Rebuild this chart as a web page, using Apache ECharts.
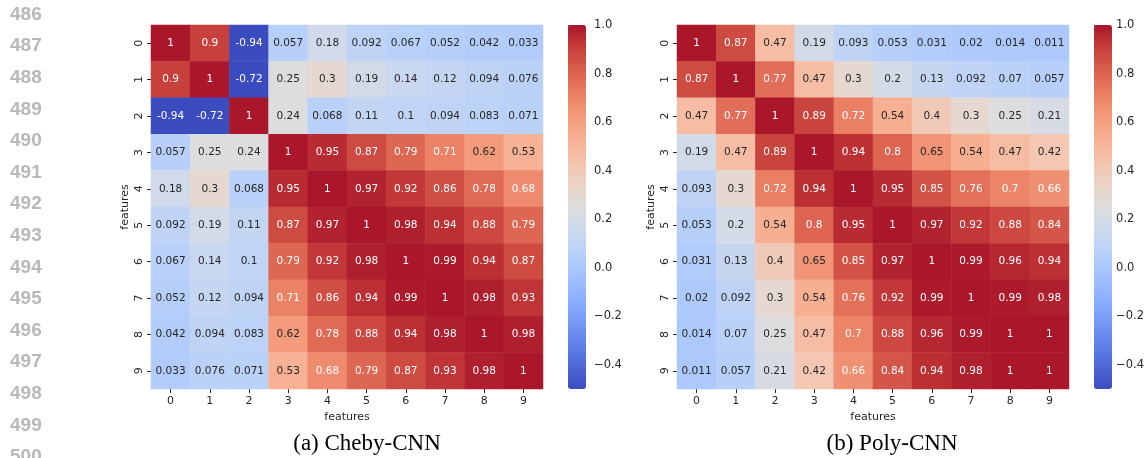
<!DOCTYPE html>
<html>
<head>
<meta charset="utf-8">
<script src="https://cdn.jsdelivr.net/npm/echarts@6/dist/echarts.min.js"></script>
<style>
  html, body { margin: 0; background: #fff; }
  #chart { width: 1147px; height: 458px; }
</style>
</head>
<body>
<div id="chart"></div>
<script>
const features = ["0", "1", "2", "3", "4", "5", "6", "7", "8", "9"];

const chebyCorr = [
  [1, 0.9, -0.94, 0.057, 0.18, 0.092, 0.067, 0.052, 0.042, 0.033],
  [0.9, 1, -0.72, 0.25, 0.3, 0.19, 0.14, 0.12, 0.094, 0.076],
  [-0.94, -0.72, 1, 0.24, 0.068, 0.11, 0.1, 0.094, 0.083, 0.071],
  [0.057, 0.25, 0.24, 1, 0.95, 0.87, 0.79, 0.71, 0.62, 0.53],
  [0.18, 0.3, 0.068, 0.95, 1, 0.97, 0.92, 0.86, 0.78, 0.68],
  [0.092, 0.19, 0.11, 0.87, 0.97, 1, 0.98, 0.94, 0.88, 0.79],
  [0.067, 0.14, 0.1, 0.79, 0.92, 0.98, 1, 0.99, 0.94, 0.87],
  [0.052, 0.12, 0.094, 0.71, 0.86, 0.94, 0.99, 1, 0.98, 0.93],
  [0.042, 0.094, 0.083, 0.62, 0.78, 0.88, 0.94, 0.98, 1, 0.98],
  [0.033, 0.076, 0.071, 0.53, 0.68, 0.79, 0.87, 0.93, 0.98, 1]
];

const polyCorr = [
  [1, 0.87, 0.47, 0.19, 0.093, 0.053, 0.031, 0.02, 0.014, 0.011],
  [0.87, 1, 0.77, 0.47, 0.3, 0.2, 0.13, 0.092, 0.07, 0.057],
  [0.47, 0.77, 1, 0.89, 0.72, 0.54, 0.4, 0.3, 0.25, 0.21],
  [0.19, 0.47, 0.89, 1, 0.94, 0.8, 0.65, 0.54, 0.47, 0.42],
  [0.093, 0.3, 0.72, 0.94, 1, 0.95, 0.85, 0.76, 0.7, 0.66],
  [0.053, 0.2, 0.54, 0.8, 0.95, 1, 0.97, 0.92, 0.88, 0.84],
  [0.031, 0.13, 0.4, 0.65, 0.85, 0.97, 1, 0.99, 0.96, 0.94],
  [0.02, 0.092, 0.3, 0.54, 0.76, 0.92, 0.99, 1, 0.99, 0.98],
  [0.014, 0.07, 0.25, 0.47, 0.7, 0.88, 0.96, 0.99, 1, 1],
  [0.011, 0.057, 0.21, 0.42, 0.66, 0.84, 0.94, 0.98, 1, 1]
];

const colorbarTicks = [-0.4, -0.2, 0, 0.2, 0.4, 0.6, 0.8, 1.0];
const captions = ["(a) Cheby-CNN", "(b) Poly-CNN"];
const lineNumbers = [486, 487, 488, 489, 490, 491, 492, 493, 494, 495, 496, 497, 498, 499, 500];
const vMin = -0.5;
const vMax = 1.0;

// coolwarm, red end toned down a little like the scanned figure
const coolwarm = [
  [59, 76, 192], [77, 104, 215], [98, 130, 234], [119, 154, 247],
  [141, 176, 254], [163, 194, 255], [184, 208, 249], [204, 217, 238],
  [221, 221, 221], [236, 211, 197], [245, 196, 173], [247, 177, 148],
  [244, 154, 123], [234, 127, 99], [218, 96, 78], [198, 62, 58], [170, 22, 42]
];
const coolwarmHex = coolwarm.map(c => "rgb(" + c.join(",") + ")");

const clamp = v => Math.min(vMax, Math.max(vMin, v));

function cmap(v) {
  const t = (clamp(v) - vMin) / (vMax - vMin) * (coolwarm.length - 1);
  const i = Math.min(coolwarm.length - 2, Math.floor(t));
  const f = t - i;
  return coolwarm[i].map((c, k) => c + (coolwarm[i + 1][k] - c) * f);
}

// seaborn picks dark or white annotation text by luminance
function textColor(v) {
  const lin = cmap(v).map(c => {
    c /= 255;
    return c <= 0.03928 ? c / 12.92 : Math.pow((c + 0.055) / 1.055, 2.4);
  });
  const lum = 0.2126 * lin[0] + 0.7152 * lin[1] + 0.0722 * lin[2];
  return lum > 0.408 ? "#262626" : "#ffffff";
}

const toCells = (m) => {
  const out = [];
  m.forEach((row, i) => row.forEach((v, j) => {
    out.push({ value: [j, i, v, clamp(v)], label: { color: textColor(v) } });
  }));
  return out;
};

const font = "DejaVu Sans";
const ink = "#262626";

const heatGrids = [
  { left: 151, top: 25, width: 392, height: 364 },
  { left: 677, top: 25, width: 392, height: 364 }
];
const barGrids = [
  { left: 568, top: 25, width: 18, height: 364 },
  { left: 1094, top: 25, width: 18, height: 364 }
];

const catX = (gi) => ({
  type: "category", gridIndex: gi, data: features,
  name: "features", nameLocation: "middle", nameGap: 22,
  nameTextStyle: { fontFamily: font, fontSize: 11, color: ink },
  axisLine: { show: false },
  axisTick: { show: true, alignWithLabel: true, length: 4, lineStyle: { color: ink } },
  axisLabel: { fontFamily: font, fontSize: 11, color: ink, margin: 7 },
  splitLine: { show: false }
});
const catY = (gi) => ({
  type: "category", gridIndex: gi, data: features, inverse: true,
  name: "features", nameLocation: "middle", nameGap: 20, nameRotate: 90,
  nameTextStyle: { fontFamily: font, fontSize: 11, color: ink },
  axisLine: { show: false },
  axisTick: { show: true, alignWithLabel: true, length: 4, lineStyle: { color: ink } },
  axisLabel: { fontFamily: font, fontSize: 11, color: ink, rotate: 90, margin: 6 },
  splitLine: { show: false }
});
const barX = (gi) => ({ type: "value", gridIndex: gi, show: false, min: 0, max: 1 });
const barY = (gi) => ({
  type: "value", gridIndex: gi, min: vMin, max: vMax, position: "right",
  axisLine: { show: false },
  axisTick: { show: true, length: 4, customValues: colorbarTicks, lineStyle: { color: ink } },
  axisLabel: {
    fontFamily: font, fontSize: 11.5, color: ink, margin: 8, customValues: colorbarTicks,
    formatter: v => (v < -1e-9 ? "\u2212" + Math.abs(v).toFixed(1) : Math.abs(v).toFixed(1))
  },
  splitLine: { show: false }
});

const heatSeries = (idx, m) => ({
  type: "heatmap", xAxisIndex: idx, yAxisIndex: idx,
  data: toCells(m),
  itemStyle: { borderWidth: 0 },
  label: {
    show: true, fontFamily: font, fontSize: 10.5,
    formatter: p => String(p.value[2])
  },
  emphasis: { disabled: true }
});

const colorbar = (idx) => ({
  type: "continuous", seriesIndex: idx, dimension: 3,
  min: vMin, max: vMax, calculable: false, hoverLink: false,
  inRange: { color: coolwarmHex },
  itemWidth: barGrids[idx].width, itemHeight: barGrids[idx].height,
  left: barGrids[idx].left, top: barGrids[idx].top, padding: 0
});

const graphics = [];
lineNumbers.forEach((n, k) => {
  graphics.push({
    type: "text", left: 10, top: 5 + k * 31.6,
    style: { text: String(n), font: "bold 19px 'Liberation Sans'", fill: "#b8b8b8" }
  });
});
const captionX = [367, 892];
captions.forEach((c, k) => {
  graphics.push({
    type: "text", x: captionX[k], y: 444,
    style: { text: c, font: "23px 'Liberation Serif'", fill: "#000", align: "center", verticalAlign: "middle" }
  });
});

const chart = echarts.init(document.getElementById("chart"));
chart.setOption({
  animation: false,
  backgroundColor: "#fff",
  grid: heatGrids.concat(barGrids),
  xAxis: [catX(0), catX(1), barX(2), barX(3)],
  yAxis: [catY(0), catY(1), barY(2), barY(3)],
  visualMap: [colorbar(0), colorbar(1)],
  series: [heatSeries(0, chebyCorr), heatSeries(1, polyCorr)],
  graphic: graphics
});
</script>
</body>
</html>
